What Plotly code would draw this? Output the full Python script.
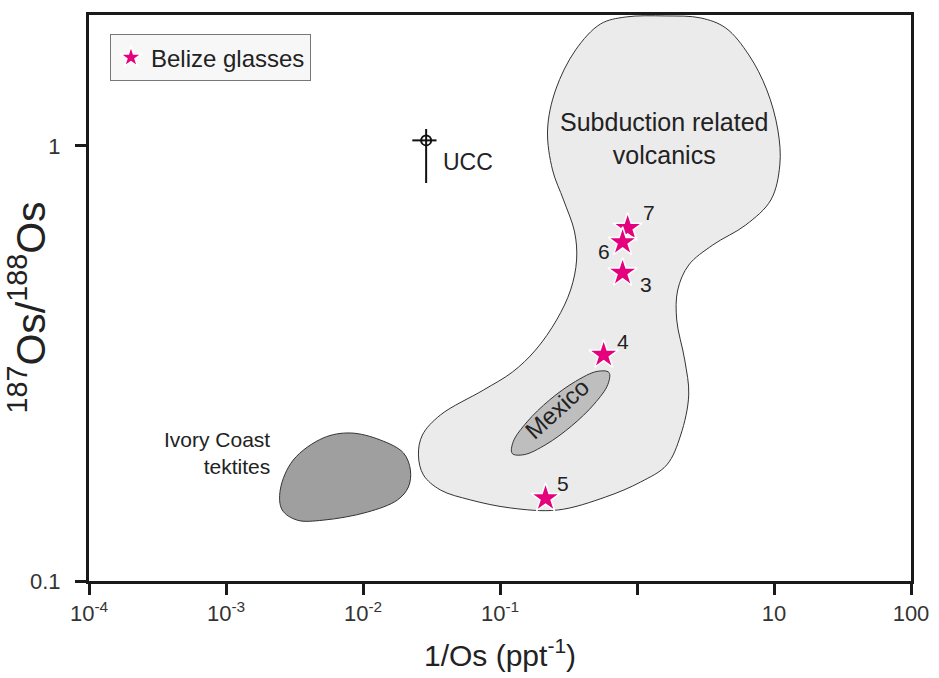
import numpy as np
import plotly.graph_objects as go

# Belize glass samples: 1/Os (ppt^-1) and 187Os/188Os
sample_ids = ["7", "6", "3", "4", "5"]
inv_os = [0.855, 0.785, 0.785, 0.571, 0.215]
os_ratio = [0.648, 0.601, 0.511, 0.331, 0.155]
# label offsets (px) for the sample numbers
label_dx = [21, -19, 23, 19, 17]
label_dy = [15, -9, -12, 13, 15]

# Upper continental crust reference point with uncertainties
ucc_x = [0.0289]
ucc_y = [1.03]
ucc_x_minus = [0.006]
ucc_x_plus = [0.0055]
ucc_y_minus = [0.208]
ucc_y_plus = [0.064]

# Field outlines (1/Os, 187Os/188Os)
subduction_x = [0.5428, 0.8265, 1.620, 2.920, 4.447, 6.550, 8.866, 10.67, 11.03, 9.484,
                6.226, 3.573, 2.386, 1.983, 1.950, 2.230, 2.386, 2.085, 1.648, 1.064,
                0.5904, 0.2633, 0.1193, 0.06088, 0.03674, 0.02761, 0.02539, 0.02715, 0.03674, 0.07577,
                0.1234, 0.1818, 0.2588, 0.3276, 0.3623, 0.3503, 0.2910, 0.2418, 0.2224, 0.2545,
                0.3562, 0.5428]
subduction_y = [1.908, 1.979, 1.990, 1.969, 1.867, 1.619, 1.345, 1.088, 0.904, 0.7514,
                0.6583, 0.5921, 0.5325, 0.4667, 0.3981, 0.3222, 0.2677, 0.2166, 0.1848, 0.1689,
                0.1560, 0.1456, 0.1472, 0.1536, 0.1619, 0.1753, 0.1949, 0.2166, 0.2408, 0.2748,
                0.3023, 0.3396, 0.3981, 0.4667, 0.5468, 0.6343, 0.7514, 0.8808, 1.088, 1.345,
                1.662, 1.908]

ivory_x = [0.002488, 0.003097, 0.005129, 0.008082, 0.01339, 0.01972, 0.02218, 0.02145,
           0.01782, 0.01076, 0.005129, 0.003312, 0.002573, 0.002488]
ivory_y = [0.1619, 0.1897, 0.2132, 0.2189, 0.2109, 0.1970, 0.1799, 0.1645,
           0.1535, 0.1440, 0.1380, 0.1380, 0.1456, 0.1619]

mexico_x = [0.6240, 0.6129, 0.4874, 0.3326, 0.2162, 0.1501, 0.1228, 0.1250,
            0.1575, 0.2304, 0.3551, 0.5104, 0.6240]
mexico_y = [0.3015, 0.2830, 0.2552, 0.2271, 0.2059, 0.1952, 0.1964, 0.2092,
            0.2321, 0.2608, 0.2875, 0.3032, 0.3015]

# Field label anchors
subduction_label = (1.567, 1.043)
ivory_label = (0.002175, 0.197)
mexico_label = (0.262, 0.249)
ucc_label = (0.03737, 0.919)

x_tickvals = [1e-4, 1e-3, 1e-2, 1e-1, 1, 10, 100]
x_ticktext = ["10<sup>-4</sup>", "10<sup>-3</sup>", "10<sup>-2</sup>", "10<sup>-1</sup>", "", "10", "100"]
y_tickvals = [0.1, 1]
y_ticktext = ["0.1", "1"]

FONT = "Arial, Liberation Sans, Helvetica, sans-serif"
TXT = "#222222"
MAGENTA = "#e5007d"

fig = go.Figure()

fig.add_trace(go.Scatter(
    x=subduction_x, y=subduction_y, mode="lines", fill="toself",
    fillcolor="#ebebeb", line=dict(color="#333333", width=1, shape="spline", smoothing=1),
    showlegend=False, hoverinfo="skip"))
fig.add_trace(go.Scatter(
    x=ivory_x, y=ivory_y, mode="lines", fill="toself",
    fillcolor="#9f9f9f", line=dict(color="#333333", width=1, shape="spline", smoothing=1),
    showlegend=False, hoverinfo="skip"))
fig.add_trace(go.Scatter(
    x=mexico_x, y=mexico_y, mode="lines", fill="toself",
    fillcolor="#bebebe", line=dict(color="#333333", width=1, shape="spline", smoothing=1),
    showlegend=False, hoverinfo="skip"))

fig.add_trace(go.Scatter(
    x=ucc_x, y=ucc_y, mode="markers",
    marker=dict(symbol="circle-open", size=10, color="#111111", line=dict(width=2)),
    error_x=dict(type="data", symmetric=False, array=ucc_x_plus, arrayminus=ucc_x_minus,
                 color="#111111", thickness=2, width=0),
    error_y=dict(type="data", symmetric=False, array=ucc_y_plus, arrayminus=ucc_y_minus,
                 color="#111111", thickness=2, width=0),
    showlegend=False, hoverinfo="skip"))

fig.add_trace(go.Scatter(
    x=inv_os, y=os_ratio, mode="markers", name="Belize glasses",
    marker=dict(symbol="star", size=22, color=MAGENTA, line=dict(color="white", width=1.5))))

annotations = []
for sid, xv, yv, dx, dy in zip(sample_ids, inv_os, os_ratio, label_dx, label_dy):
    annotations.append(dict(x=np.log10(xv), y=np.log10(yv), text=sid, showarrow=False,
                            xshift=dx, yshift=dy, font=dict(size=21, color=TXT, family=FONT)))

annotations += [
    dict(x=np.log10(subduction_label[0]), y=np.log10(subduction_label[1]),
         text="Subduction related<br>volcanics", showarrow=False, align="center",
         font=dict(size=25, color=TXT, family=FONT)),
    dict(x=np.log10(ivory_label[0]), y=np.log10(ivory_label[1]),
         text="Ivory Coast<br>tektites", showarrow=False, align="right", xanchor="right",
         font=dict(size=21, color=TXT, family=FONT)),
    dict(x=np.log10(mexico_label[0]), y=np.log10(mexico_label[1]),
         text="Mexico", showarrow=False, textangle=-42,
         font=dict(size=24, color=TXT, family=FONT)),
    dict(x=np.log10(ucc_label[0]), y=np.log10(ucc_label[1]),
         text="UCC", showarrow=False, xanchor="left",
         font=dict(size=23, color=TXT, family=FONT)),
    # axis titles, placed in paper coordinates outside the frame
    dict(xref="paper", yref="paper", x=-0.075, y=0.484, xanchor="center", yanchor="middle",
         text="<sup>187</sup>Os/<sup>188</sup>Os", showarrow=False, textangle=-90,
         font=dict(size=41, color=TXT, family=FONT)),
    dict(xref="paper", yref="paper", x=0.5, y=-0.128, xanchor="center", yanchor="middle",
         text="1/Os (ppt<sup>-1</sup>)", showarrow=False,
         font=dict(size=30, color=TXT, family=FONT)),
]

axis_common = dict(
    type="log", showgrid=False, zeroline=False, showline=True, mirror=True,
    linecolor="#1a1a1a", linewidth=3, ticks="outside", ticklen=11, tickwidth=3,
    tickcolor="#1a1a1a", tickfont=dict(size=22, color="#333333", family=FONT),
    automargin=False,
)

fig.update_layout(
    width=939, height=678,
    margin=dict(l=89, r=28, t=15, b=97),
    paper_bgcolor="white", plot_bgcolor="white",
    font=dict(family=FONT, color=TXT),
    xaxis=dict(range=[-4, 2], tickvals=x_tickvals, ticktext=x_ticktext, **axis_common),
    yaxis=dict(range=[-1, np.log10(2.0)], tickvals=y_tickvals, ticktext=y_ticktext,
               ticklabelstandoff=10, **axis_common),
    legend=dict(x=0.0255, y=0.966, xanchor="left", yanchor="top",
                bgcolor="#f7f7f7", bordercolor="#777777", borderwidth=1,
                font=dict(size=24, color=TXT, family=FONT), itemwidth=30),
    annotations=annotations,
)

fig.write_html("out.html")
